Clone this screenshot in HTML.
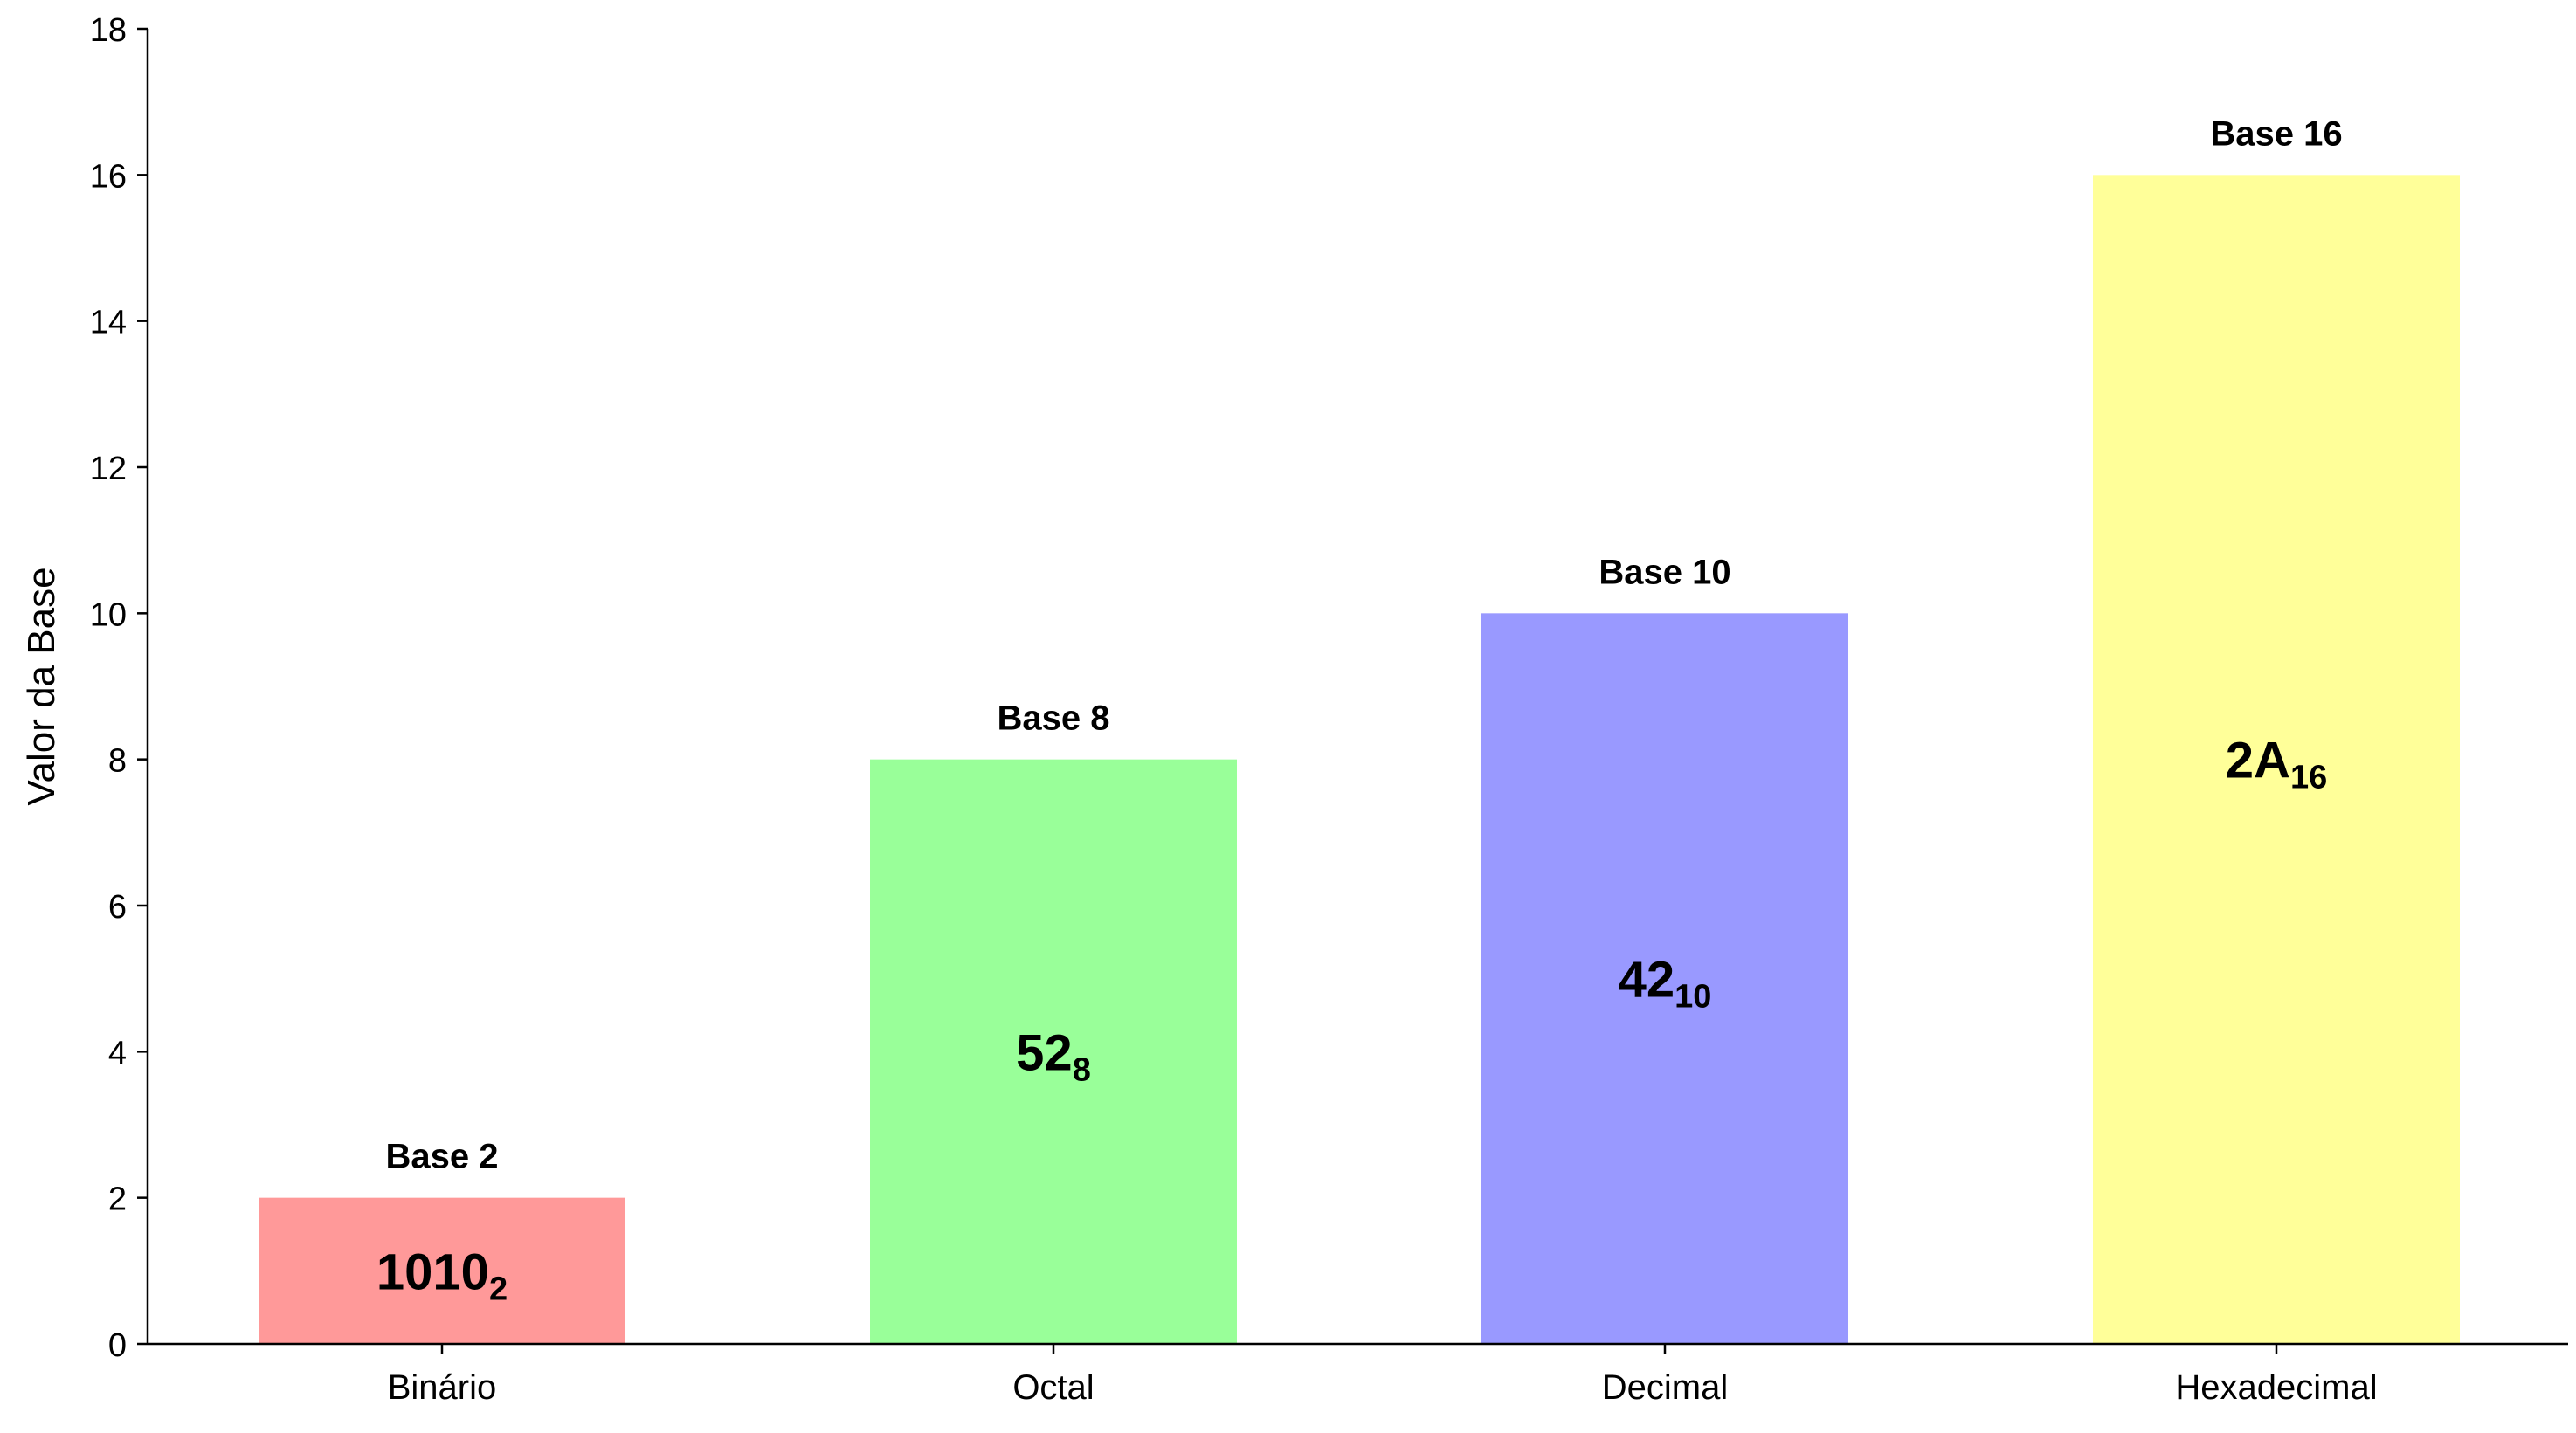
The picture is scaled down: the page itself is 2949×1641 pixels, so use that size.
<!DOCTYPE html>
<html><head><meta charset="utf-8"><style>
html,body{margin:0;padding:0;background:#fff;}
svg{display:block;font-family:"Liberation Sans","DejaVu Sans",sans-serif;}
</style></head><body>
<svg id="chart" width="2949" height="1641" viewBox="0 0 2949 1641" xmlns="http://www.w3.org/2000/svg"></svg>
<script>
const categories = ["Binário", "Octal", "Decimal", "Hexadecimal"];
const values = [2, 8, 10, 16];
const baseLabels = ["Base 2", "Base 8", "Base 10", "Base 16"];
const numMain = ["1010", "52", "42", "2A"];
const numSub = ["2", "8", "10", "16"];
const colors = ["#ff9999", "#99ff99", "#9999ff", "#ffff99"];
const yTicks = [0, 2, 4, 6, 8, 10, 12, 14, 16, 18];

const NS = "http://www.w3.org/2000/svg";
const svg = document.getElementById("chart");
const L = 169, R = 2940, B = 1539, T = 33, yMax = 18;
const y = v => B - (v / yMax) * (B - T);
const xc = i => 506 + i * 700;
const bw = 420;
function mk(tag, attrs, parent) {
  const e = document.createElementNS(NS, tag);
  for (const k in attrs) e.setAttribute(k, attrs[k]);
  (parent || svg).appendChild(e);
  return e;
}
categories.forEach((c, i) => {
  const r = mk("rect", {x: xc(i) - bw / 2, y: y(values[i]), width: bw, height: B - y(values[i]), fill: colors[i]});
  
  
  const t = mk("text", {x: xc(i), y: y(values[i]) - 34, "text-anchor": "middle", "font-size": 40, "font-weight": "bold"});
  t.textContent = baseLabels[i];
  
  
  const v = mk("text", {x: xc(i), y: y(values[i] / 2) + 21, "text-anchor": "middle", "font-size": 58, "font-weight": "bold"});
  
  
  const m = mk("tspan", {}, v); m.textContent = numMain[i];
  const s = mk("tspan", {"font-size": 38, dy: 12}, v); s.textContent = numSub[i];
  const tk = mk("line", {x1: xc(i), x2: xc(i), y1: B, y2: B + 12, stroke: "#000", "stroke-width": 2.5});
  
  
  const tl = mk("text", {x: xc(i), y: 1602, "text-anchor": "middle", "font-size": 40});
  tl.textContent = c;
  
  
});
yTicks.forEach(v => {
  const tk = mk("line", {x1: L - 12, x2: L, y1: y(v), y2: y(v), stroke: "#000", "stroke-width": 2.5});
  
  
  const tl = mk("text", {x: L - 24, y: y(v) + 14, "text-anchor": "end", "font-size": 38});
  tl.textContent = v;
  
  
});
const ax = mk("line", {x1: L, x2: L, y1: T, y2: B, stroke: "#000", "stroke-width": 2.5});


const bx = mk("line", {x1: L, x2: R, y1: B, y2: B, stroke: "#000", "stroke-width": 2.5});


const yl = mk("text", {x: 0, y: 0, "text-anchor": "middle", "font-size": 44, transform: "translate(62," + ((T + B) / 2) + ") rotate(-90)"});
yl.textContent = "Valor da Base";


</script>
</body></html>
